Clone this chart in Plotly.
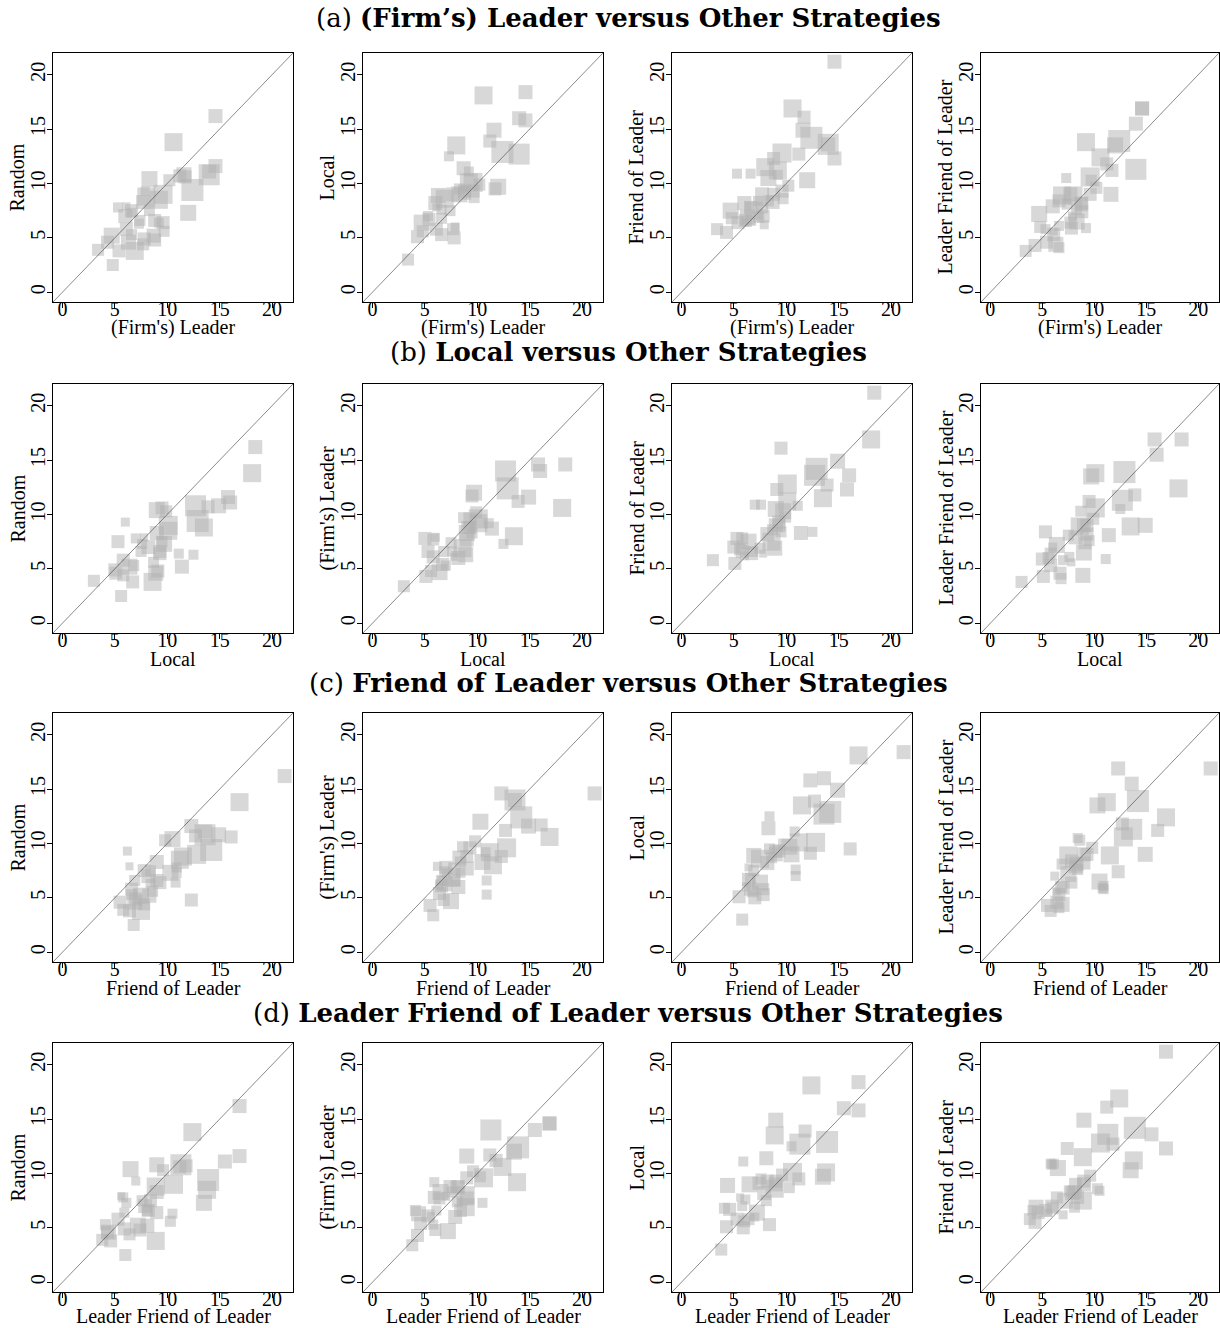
import plotly.graph_objects as go

# ---- data: one entry per network (value under each seeding strategy) ----
leader  = [14.6, 10.6, 14.6, 14.0, 11.6, 14.0, 11.7, 11.2, 12.4, 12.0, 8.0, 9.2, 9.6, 8.3, 10.2,
           7.9, 6.1, 5.3, 6.6, 9.2, 7.3, 3.4, 4.3, 4.7, 4.8, 5.4, 6.0, 6.1, 6.3, 6.6, 6.6,
           6.9, 7.4, 7.7, 7.7, 8.3, 8.8, 8.7, 8.8, 9.6, 9.7, 7.8]
random_ = [16.2, 13.8, 11.6, 10.8, 10.8, 11.1, 10.6, 10.7, 9.4, 7.3, 8.8, 8.5, 9.0, 10.4, 10.3,
           9.3, 7.9, 7.8, 7.3, 6.4, 6.3, 3.9, 4.6, 5.2, 2.5, 3.8, 7.0, 5.8, 4.6, 7.5, 5.3,
           3.8, 6.6, 8.3, 4.4, 7.5, 6.6, 5.2, 4.8, 6.4, 5.6, 4.9]
local   = [18.4, 18.1, 15.8, 12.7, 14.9, 16.0, 9.5, 13.9, 12.9, 9.7, 13.5, 10.1, 10.1, 9.0, 9.9,
           6.0, 7.8, 7.0, 7.6, 11.1, 12.5, 3.0, 5.1, 6.4, 5.6, 6.7, 8.2, 5.8, 8.9, 5.3, 6.8,
           8.6, 7.5, 9.0, 5.8, 9.5, 9.3, 11.4, 9.1, 9.3, 8.7, 5.0]
friend  = [21.2, 16.9, 12.3, 13.6, 14.9, 13.6, 16.1, 12.7, 14.2, 10.3, 11.5, 11.2, 12.8, 10.5, 9.8,
           6.2, 6.4, 10.9, 10.9, 10.8, 8.4, 5.8, 5.5, 7.5, 6.8, 6.4, 8.2, 6.6, 6.9, 7.8, 6.6,
           7.5, 6.9, 9.0, 7.8, 8.4, 9.0, 8.3, 12.3, 9.3, 8.6, 7.0]
lfriend = [16.9, 12.4, 16.9, 11.3, 9.0, 15.5, 11.2, 11.8, 13.9, 13.5, 8.9, 13.8, 10.6, 6.5, 9.6,
           7.0, 5.6, 5.8, 6.1, 5.9, 10.5, 3.8, 4.3, 7.2, 6.0, 4.6, 7.9, 5.3, 4.4, 8.4, 4.1,
           8.9, 8.1, 9.0, 6.4, 7.6, 8.2, 8.1, 7.4, 9.0, 10.3, 5.9]
weight  = [14, 18, 14, 21, 15, 14, 13, 13, 22, 16, 18, 18, 19, 16, 12,
           9, 8, 10, 10, 10, 10, 12, 13, 16, 12, 13, 14, 13, 15, 13, 11,
           18, 11, 14, 12, 11, 13, 14, 13, 13, 11, 13]

series = {"Random": random_, "(Firm's) Leader": leader, "Local": local,
          "Friend of Leader": friend, "Leader Friend of Leader": lfriend}

row_x = ["(Firm's) Leader", "Local", "Friend of Leader", "Leader Friend of Leader"]
row_y = [["Random", "Local", "Friend of Leader", "Leader Friend of Leader"],
         ["Random", "(Firm's) Leader", "Friend of Leader", "Leader Friend of Leader"],
         ["Random", "(Firm's) Leader", "Local", "Leader Friend of Leader"],
         ["Random", "(Firm's) Leader", "Local", "Friend of Leader"]]
row_titles = ["(a) <b>(Firm’s) Leader versus Other Strategies</b>",
              "(b) <b>Local versus Other Strategies</b>",
              "(c) <b>Friend of Leader versus Other Strategies</b>",
              "(d) <b>Leader Friend of Leader versus Other Strategies</b>"]
tick_vals = [0, 5, 10, 15, 20]
axis_range = [-0.9, 22]

W, H = 1220, 1328
col_px = [(53, 293), (363, 603), (672, 912), (981, 1219)]
row_top_px = [53, 384, 713, 1043]
panel_h = 249
title_y_px = [18, 352, 683, 1013]
xtitle_gap = [26, 26, 26, 24]

FONT = "Liberation Serif"
FS = 20
fig = go.Figure()
layout = {}
annotations = []
n = 0
for r in range(4):
    for c in range(4):
        n += 1
        xa = "x" if n == 1 else f"x{n}"
        ya = "y" if n == 1 else f"y{n}"
        xs = series[row_x[r]]
        ys = series[row_y[r][c]]
        fig.add_trace(go.Scatter(
            x=xs, y=ys, mode="markers", xaxis=xa, yaxis=ya, showlegend=False,
            marker=dict(symbol="square", size=weight, color="rgb(178,178,178)",
                        opacity=0.5, line=dict(width=0)),
            hoverinfo="skip"))
        fig.add_trace(go.Scatter(
            x=axis_range, y=axis_range, mode="lines", xaxis=xa, yaxis=ya,
            showlegend=False, line=dict(color="rgb(60,60,60)", width=0.6),
            hoverinfo="skip"))
        x0, x1 = col_px[c]
        top = row_top_px[r]
        common = dict(range=axis_range, tickvals=tick_vals, showgrid=False, zeroline=False,
                      showline=True, linecolor="black", linewidth=1, mirror=True,
                      ticks="outside", ticklen=5, tickwidth=1, tickcolor="black",
                      automargin=False,
                      tickfont=dict(family=FONT, size=FS, color="black"))
        layout["xaxis" if n == 1 else f"xaxis{n}"] = dict(
            common, domain=[x0 / W, x1 / W], anchor=ya, ticklabelstandoff=-16)
        layout["yaxis" if n == 1 else f"yaxis{n}"] = dict(
            common, domain=[1 - (top + panel_h) / H, 1 - top / H], anchor=xa,
            tickangle=-90, ticklabelstandoff=-6)
        # axis titles placed just outside the tick labels
        annotations.append(dict(text=row_x[r], x=(x0 + x1) / 2 / W,
                                y=1 - (top + panel_h + xtitle_gap[r]) / H,
                                xref="paper", yref="paper", xanchor="center", yanchor="middle",
                                showarrow=False, font=dict(family=FONT, size=FS, color="black")))
        annotations.append(dict(text=row_y[r][c], x=(x0 - 36) / W, y=1 - (top + panel_h / 2) / H,
                                xref="paper", yref="paper", xanchor="center", yanchor="middle",
                                textangle=-90, showarrow=False,
                                font=dict(family=FONT, size=FS, color="black")))

for r in range(4):
    annotations.append(dict(text=row_titles[r], x=628 / W, y=1 - title_y_px[r] / H,
                            xref="paper", yref="paper", xanchor="center", yanchor="middle",
                            showarrow=False,
                            font=dict(family="DejaVu Serif", size=26, color="black")))

fig.update_layout(**layout)
fig.update_layout(width=W, height=H, margin=dict(l=0, r=0, t=0, b=0),
                  paper_bgcolor="white", plot_bgcolor="white",
                  annotations=annotations)
fig.write_html("out.html", config={"displayModeBar": False},
               post_script="document.body.style.margin='0';document.body.style.overflow='hidden';")
